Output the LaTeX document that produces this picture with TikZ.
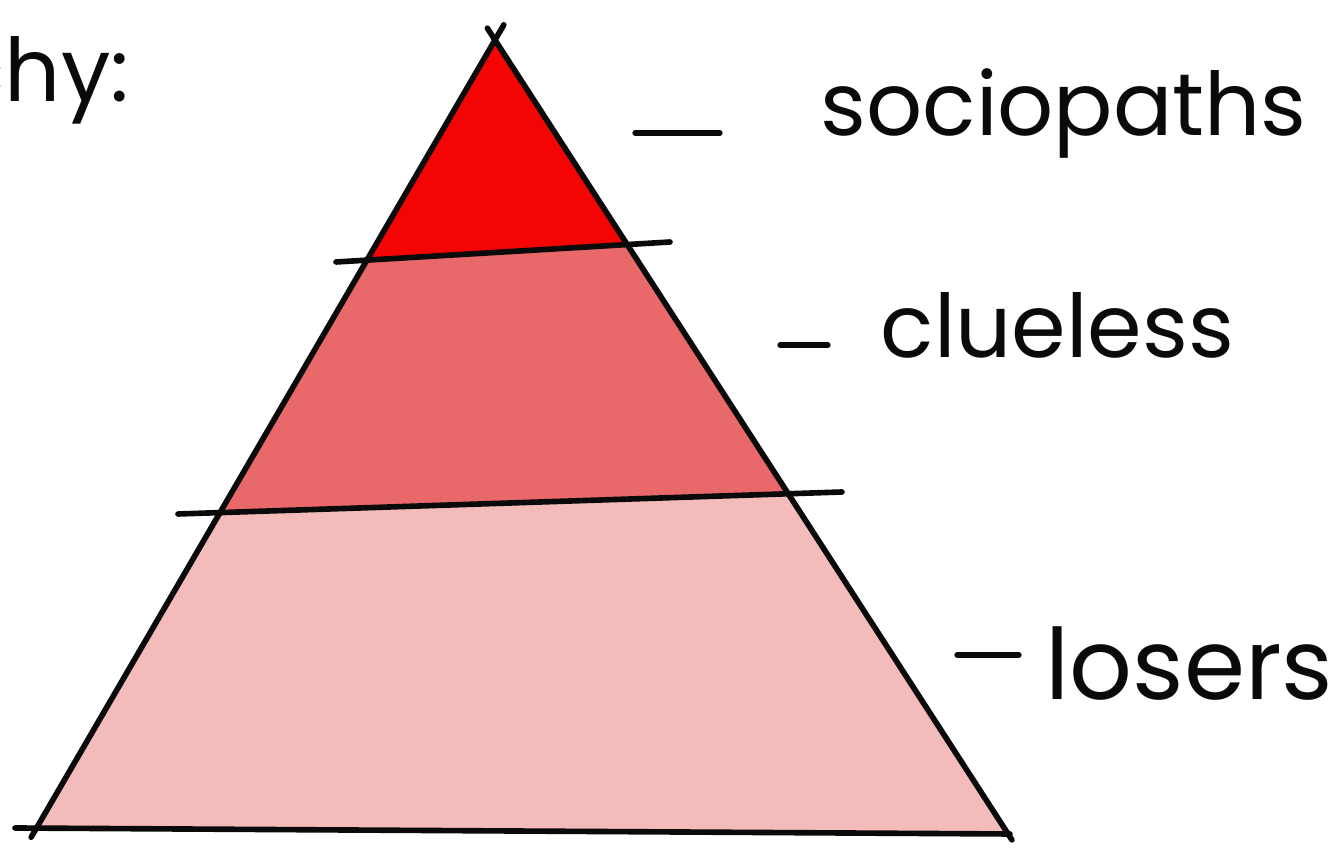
\documentclass[tikz,border=0pt]{standalone}
\usepackage{fontspec}
\setmainfont{Poppins}
\usepackage{xcolor}
\usepackage{tikz}
\usetikzlibrary{calc, positioning}
\definecolor{pred}{HTML}{F50404}
\definecolor{pmid}{HTML}{E9686A}
\definecolor{plow}{HTML}{F4BBBB}
\definecolor{pink}{HTML}{0A0A0A}
\tikzset{
  tier/.style={fill=#1, draw=none},
  side/.style={draw=pink, line width=1.6pt, line cap=round, line join=round},
  cut/.style={draw=pink, line width=1.6pt, line cap=round},
  tick/.style={draw=pink, line width=1.5pt, line cap=round},
  lbl/.style={anchor=base west, inner sep=0pt, text=pink, font=\fontsize{25}{30}\selectfont}
}
\begin{document}
\begin{tikzpicture}[x=1cm, y=1cm]
  \useasboundingbox (0,0) rectangle (13.38,-8.58);
  \fill[white] (0,0) rectangle (13.38,-8.58);

  % corners of the pyramid and the cuts
  \coordinate (apex) at (4.95,-0.40);
  \coordinate (foot) at (0.33,-8.34);
  \coordinate (heel) at (10.12,-8.40);
  \coordinate (c1w) at (3.36,-2.62);
  \coordinate (c1e) at (6.70,-2.42);
  \coordinate (c2w) at (1.78,-5.14);
  \coordinate (c2e) at (8.42,-4.92);
  \coordinate (c3w) at (0.15,-8.28);
  \coordinate (c3e) at (10.10,-8.34);
  \coordinate (l1) at (intersection of apex--foot and c1w--c1e);
  \coordinate (r1) at (intersection of apex--heel and c1w--c1e);
  \coordinate (l2) at (intersection of apex--foot and c2w--c2e);
  \coordinate (r2) at (intersection of apex--heel and c2w--c2e);
  \coordinate (bl) at (intersection of apex--foot and c3w--c3e);
  \coordinate (br) at (intersection of apex--heel and c3w--c3e);

  % tiers
  \path[tier=plow] (bl) -- (br) -- (r2) -- (l2) -- cycle;
  \path[tier=pmid] (l2) -- (r2) -- (r1) -- (l1) -- cycle;
  \path[tier=pred] (l1) -- (r1) -- (apex) -- cycle;

  % outline
  \draw[side, shorten <=-3pt, shorten >=-5pt] (bl) -- (apex);
  \draw[side, shorten <=-2pt, shorten >=-4pt] (br) -- (apex);
  \draw[cut] (c1w) -- (c1e);
  \draw[cut] (c2w) -- (c2e);
  \draw[cut] (c3w) -- (c3e);

  % labels
  \node[lbl] (soc) at (8.20,-1.36) {sociopaths};
  \node[lbl] (clu) at (8.80,-3.58) {clueless};
  \node[lbl, font=\fontsize{28}{32}\selectfont] (los) at (10.45,-7.00) {losers};
  \node[lbl, anchor=base east] (hier) at (1.30,-1.02) {hierarchy:};
  \coordinate (t1) at (6.35,-1.33);
  \coordinate (t2) at (7.80,-3.45);
  \coordinate (t3) at (9.57,-6.55);
  \draw[tick] (t1) -- ++(0.85,0);
  \draw[tick] (t2) -- ++(0.48,0);
  \draw[tick] (t3) -- ++(0.62,0);
\end{tikzpicture}
\end{document}
